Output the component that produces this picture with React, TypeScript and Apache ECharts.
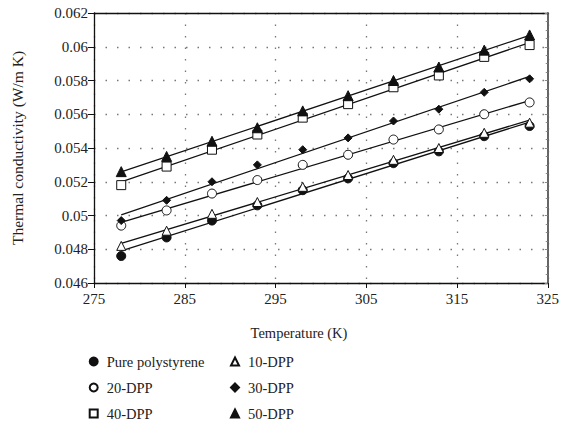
import React, { useEffect, useRef } from "react";
import * as echarts from "echarts";

const temperatures = [278, 283, 288, 293, 298, 303, 308, 313, 318, 323];
const purePolystyrene = [0.0476, 0.0487, 0.0497, 0.0506, 0.0515, 0.0522, 0.0531, 0.0538, 0.0547, 0.0553];
const dpp10 = [0.0482, 0.0491, 0.0501, 0.0508, 0.0517, 0.0524, 0.0533, 0.0540, 0.0549, 0.0555];
const dpp20 = [0.0494, 0.0503, 0.0513, 0.0521, 0.0530, 0.0536, 0.0545, 0.0551, 0.0560, 0.0567];
const dpp30 = [0.0497, 0.0509, 0.0520, 0.0530, 0.0539, 0.0546, 0.0556, 0.0563, 0.0573, 0.0581];
const dpp40 = [0.0518, 0.0529, 0.0539, 0.0548, 0.0558, 0.0566, 0.0576, 0.0583, 0.0594, 0.0601];
const dpp50 = [0.0526, 0.0535, 0.0544, 0.0552, 0.0562, 0.0571, 0.0580, 0.0588, 0.0598, 0.0607];

const seriesNames = ["Pure polystyrene", "10-DPP", "20-DPP", "30-DPP", "40-DPP", "50-DPP"];
const xTickMin = 275;
const xTickMax = 325;
const yTickMin = 0.046;
const yTickMax = 0.062;

const FONT = '"Liberation Serif", "DejaVu Serif", serif';

function fit(xs: number[], ys: number[]) {
  const n = xs.length;
  const mx = xs.reduce((a, b) => a + b, 0) / n;
  const my = ys.reduce((a, b) => a + b, 0) / n;
  let sxy = 0, sxx = 0;
  for (let i = 0; i < n; i++) {
    sxy += (xs[i] - mx) * (ys[i] - my);
    sxx += (xs[i] - mx) * (xs[i] - mx);
  }
  const b = sxy / sxx;
  const a = my - b * mx;
  const x0 = xs[0], x1 = xs[n - 1];
  return [[x0, a + b * x0], [x1, a + b * x1]];
}

export default function App() {
  const ref = useRef<HTMLDivElement>(null);
  useEffect(() => {
    if (!ref.current) return;
    const chart = echarts.init(ref.current, null, { renderer: "svg" });
    const sets = [
      { name: seriesNames[0], data: purePolystyrene, symbol: "circle", size: 9, fill: "#111" },
      { name: seriesNames[1], data: dpp10, symbol: "triangle", size: 9, fill: "#fff" },
      { name: seriesNames[2], data: dpp20, symbol: "circle", size: 9, fill: "#fff" },
      { name: seriesNames[3], data: dpp30, symbol: "diamond", size: 8, fill: "#111" },
      { name: seriesNames[4], data: dpp40, symbol: "rect", size: 9, fill: "#fff" },
      { name: seriesNames[5], data: dpp50, symbol: "triangle", size: 10, fill: "#111" },
    ];
    const series: any[] = [];
    sets.forEach((s) => {
      series.push({
        type: "line",
        name: "fit " + s.name,
        data: fit(temperatures, s.data),
        symbol: "none",
        silent: true,
        lineStyle: { color: "#111", width: 1.3 },
        z: 2,
      });
    });
    sets.forEach((s) => {
      series.push({
        type: "scatter",
        name: s.name,
        data: temperatures.map((t, i) => [t, s.data[i]]),
        symbol: s.symbol,
        symbolSize: s.size,
        itemStyle: { color: s.fill, borderColor: "#111", borderWidth: 1, opacity: 1 },
        z: 3,
      });
    });
    const labelStyle = { fontFamily: FONT, fontSize: 15, color: "#222" };
    const legendBase = {
      orient: "vertical",
      top: 354,
      bottom: 0,
      padding: 0,
      itemWidth: 8,
      itemHeight: 8,
      itemGap: 11,
      textStyle: { fontFamily: FONT, fontSize: 14.5, color: "#222", padding: [0, 0, 0, 4] },
    };
    chart.setOption({
      animation: false,
      backgroundColor: "#fff",
      grid: { left: 94, right: 12, top: 13, bottom: 141, containLabel: false },
      xAxis: [
        {
          type: "value",
          min: xTickMin,
          max: xTickMax,
          interval: 10,
          axisLine: { show: true, lineStyle: { color: "#111", width: 1.3 } },
          axisTick: { show: true, inside: false, length: 5, lineStyle: { color: "#111" } },
          axisLabel: { ...labelStyle, margin: 8 },
          splitLine: { show: true, lineStyle: { color: "#777", type: [1.5, 10], width: 1.3 } },
        },
        {
          type: "value",
          position: "top",
          min: xTickMin,
          max: xTickMax,
          interval: 10,
          axisLine: { show: true, lineStyle: { color: "#111", width: 1.3 } },
          axisTick: { show: false },
          axisLabel: { show: false },
          splitLine: { show: false },
        },
      ],
      yAxis: [
        {
          type: "value",
          min: yTickMin,
          max: yTickMax,
          interval: 0.002,
          axisLine: { show: true, lineStyle: { color: "#111", width: 1.3 } },
          axisTick: { show: true, inside: false, length: 6, lineStyle: { color: "#111" } },
          axisLabel: { ...labelStyle, margin: 6 },
          splitLine: { show: true, lineStyle: { color: "#777", type: [1.5, 10], width: 1.3 } },
        },
        {
          type: "value",
          position: "right",
          min: yTickMin,
          max: yTickMax,
          interval: 0.002,
          axisLine: { show: true, lineStyle: { color: "#666", width: 2 } },
          axisTick: { show: true, inside: true, length: 3, lineStyle: { color: "#888" } },
          minorTick: { show: true, splitNumber: 4, length: 2, lineStyle: { color: "#888" } },
          axisLabel: { show: false },
          splitLine: { show: false },
        },
      ],
      legend: [
        { ...legendBase, left: 88.7, data: [seriesNames[0], seriesNames[2], seriesNames[4]] },
        { ...legendBase, left: 230, data: [seriesNames[1], seriesNames[3], seriesNames[5]] },
      ],
      graphic: [
        {
          type: "text",
          x: 299,
          y: 333,
          style: {
            text: "Temperature (K)",
            fontFamily: FONT,
            fontSize: 14.5,
            fill: "#222",
            textAlign: "center",
            textVerticalAlign: "middle",
          },
        },
        {
          type: "text",
          x: 17,
          y: 148,
          rotation: Math.PI / 2,
          style: {
            text: "Thermal conductivity (W/m K)",
            fontFamily: FONT,
            fontSize: 15.5,
            fill: "#222",
            textAlign: "center",
            textVerticalAlign: "middle",
          },
        },
      ],
      series,
    });
    return () => chart.dispose();
  }, []);
  return <div ref={ref} style={{ width: 562, height: 424, position: "absolute", left: 0, top: 0 }} />;
}
